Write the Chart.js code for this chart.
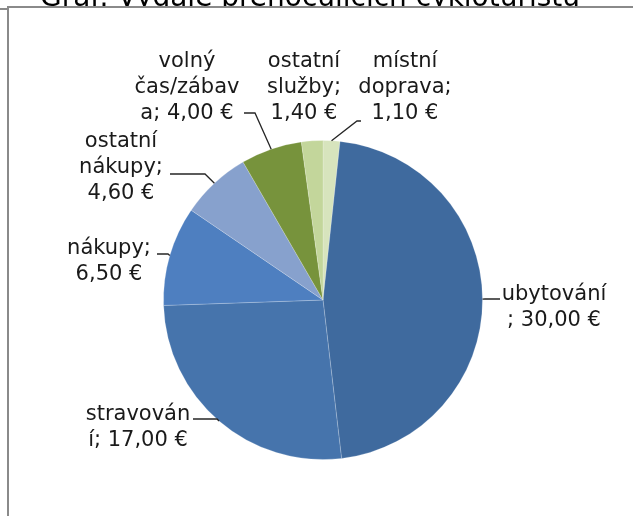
<!DOCTYPE html>
<html>
<head>
<meta charset="utf-8">
<script src="https://cdn.jsdelivr.net/npm/chart.js@4/dist/chart.umd.min.js"></script>
<style>
  html, body { margin: 0; padding: 0; background: #fff; }
  canvas { display: block; }
</style>
</head>
<body>
<canvas id="pie" width="633" height="516"></canvas>
<script>
const titleText = 'Graf: Výdaje přenocujících cykloturistů';
const categories = ['místní doprava', 'ubytování', 'stravování', 'nákupy', 'ostatní nákupy', 'volný čas/zábava', 'ostatní služby'];
const values = [1.10, 30.00, 17.00, 6.50, 4.60, 4.00, 1.40];
const sliceColors = ['#D7E4BD', '#3F6A9E', '#4674AC', '#4E7FC0', '#87A1CD', '#77933C', '#C3D69B'];

// label placement: text centre x, first baseline y, optional leader (elbow + end)
const labelPos = [
  { x: 405, y: 67, elbow: [357, 121], end: [361, 121] },
  { x: 554, y: 300, elbow: [485, 299], end: [500, 299] },
  { x: 138, y: 420, elbow: [217, 419], end: [193, 419] },
  { x: 109, y: 254, elbow: [168, 254], end: [157, 254] },
  { x: 121, y: 147, elbow: [205, 174], end: [170, 174] },
  { x: 187, y: 67, elbow: [255, 113], end: [244, 113] },
  { x: 304, y: 67 }
];

const labelFont = '21px "DejaVu Sans", Verdana, sans-serif';
const lineH = 26;
const wrapWidth = 108;

function fmt(v) {
  return v.toFixed(2).replace('.', ',') + ' €';
}

// greedy wrap, breaking inside a word when it is too long (like Excel does)
function wrap(ctx, text, maxW) {
  const words = text.split(' ');
  const lines = [];
  let cur = '';
  words.forEach(w => {
    const tryLine = cur ? cur + ' ' + w : w;
    if (ctx.measureText(tryLine).width <= maxW) { cur = tryLine; return; }
    if (cur) { lines.push(cur); cur = ''; }
    if (ctx.measureText(w).width <= maxW) { cur = w; return; }
    let part = '';
    for (const ch of w) {
      if (ctx.measureText(part + ch).width > maxW && part) { lines.push(part); part = ch; }
      else part += ch;
    }
    cur = part;
  });
  if (cur) lines.push(cur);
  return lines;
}

const framePlugin = {
  id: 'frame',
  beforeDraw(chart) {
    const ctx = chart.ctx;
    ctx.save();
    ctx.fillStyle = '#fff';
    ctx.fillRect(0, 0, chart.width, chart.height);
    // title, cut off by the crop
    let size = 25;
    ctx.font = size + 'px "DejaVu Sans", sans-serif';
    size = size * 540 / ctx.measureText(titleText).width;
    ctx.font = size + 'px "DejaVu Sans", sans-serif';
    ctx.fillStyle = '#000';
    ctx.textAlign = 'center';
    ctx.textBaseline = 'alphabetic';
    ctx.fillText(titleText, 310, 6);
    ctx.fillStyle = '#fff';
    ctx.fillRect(0, 7, chart.width, chart.height);
    ctx.fillStyle = '#8a8a8a';
    ctx.fillRect(7, 6, chart.width - 7, 2);
    ctx.fillRect(7, 6, 2, chart.height - 6);
    ctx.fillRect(0, 8, 7, 2);
    ctx.restore();
  }
};

const labelPlugin = {
  id: 'pieLabels',
  afterDraw(chart) {
    const ctx = chart.ctx;
    const arcs = chart.getDatasetMeta(0).data;
    ctx.save();
    ctx.font = labelFont;
    ctx.fillStyle = '#1a1a1a';
    ctx.textAlign = 'center';
    ctx.textBaseline = 'alphabetic';
    arcs.forEach((arc, i) => {
      const p = labelPos[i];
      const lines = wrap(ctx, categories[i] + '; ' + fmt(values[i]), wrapWidth);
      lines.forEach((ln, k) => ctx.fillText(ln, p.x, p.y + k * lineH));
      if (p.end) {
        const mid = (arc.startAngle + arc.endAngle) / 2;
        const ax = arc.x + Math.cos(mid) * arc.outerRadius;
        const ay = arc.y + Math.sin(mid) * arc.outerRadius;
        ctx.beginPath();
        ctx.strokeStyle = '#262626';
        ctx.lineWidth = 1.3;
        ctx.moveTo(ax, ay);
        ctx.lineTo(p.elbow[0], p.elbow[1]);
        ctx.lineTo(p.end[0], p.end[1]);
        ctx.stroke();
      }
    });
    ctx.restore();
  }
};

new Chart(document.getElementById('pie'), {
  type: 'pie',
  data: {
    labels: categories,
    datasets: [{
      data: values,
      backgroundColor: sliceColors,
      borderColor: 'rgba(255,255,255,0.2)',
      borderWidth: 1
    }]
  },
  options: {
    responsive: false,
    animation: false,
    layout: { padding: { left: 163, right: 150, top: 140, bottom: 56 } },
    plugins: {
      legend: { display: false },
      tooltip: { enabled: false }
    }
  },
  plugins: [framePlugin, labelPlugin]
});
</script>
</body>
</html>
